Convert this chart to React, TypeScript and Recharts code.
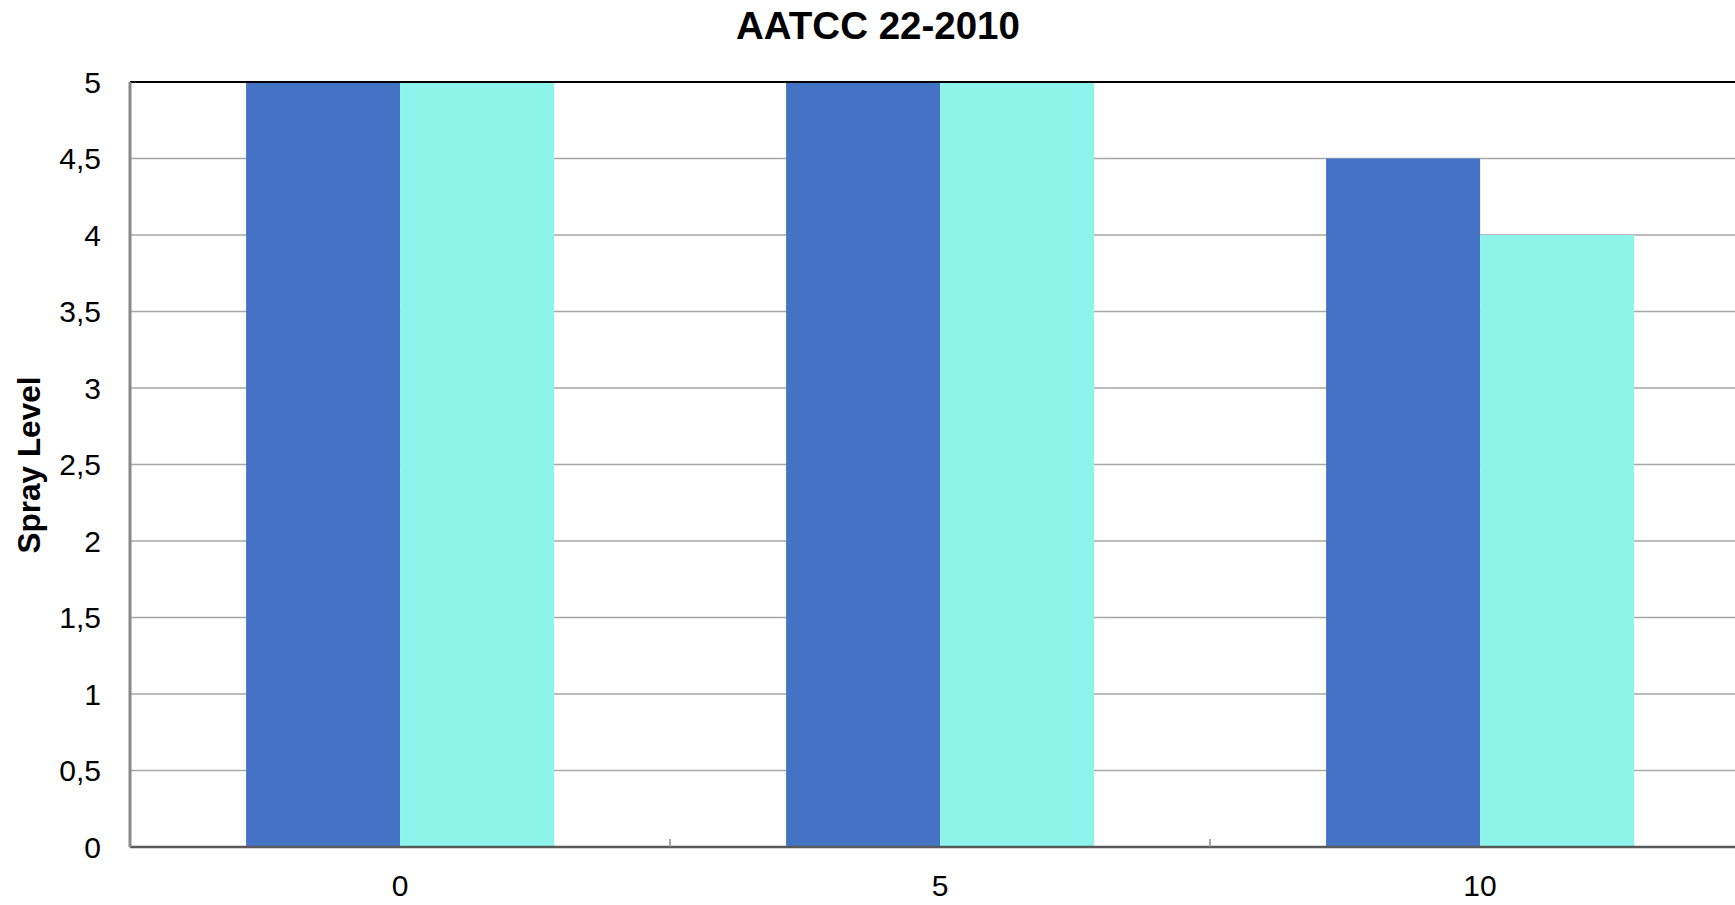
import React from 'react';
import { BarChart, Bar, XAxis, YAxis, CartesianGrid, ReferenceLine } from 'recharts';

// Spray rating (AATCC 22-2010) after 0, 5 and 10 washes
const washCycles = ['0', '5', '10'];
const sampleA = [5, 5, 4.5];
const sampleB = [5, 5, 4];
const yTicks = [0, 0.5, 1, 1.5, 2, 2.5, 3, 3.5, 4, 4.5, 5];

const title = 'AATCC 22-2010';
const yTitle = 'Spray Level';

const data = washCycles.map((c, i) => ({ cycle: c, a: sampleA[i], b: sampleB[i] }));

const FONT = '"Liberation Sans", Arial, sans-serif';

const CHART_W = 1750;
const CHART_H = 905;

// Category label plus a small upward tick at the left edge of each band
const CycleTick = (props: any) => {
  const { x, y, payload } = props;
  const half = payload && typeof payload.offset === 'number' ? payload.offset : 0;
  return (
    <g>
      <line x1={x - half} x2={x - half} y1={y - 8} y2={y} stroke="#8c8c8c" strokeWidth={1.5} />
      <text x={x} y={y + 49} textAnchor="middle" fontFamily={FONT} fontSize={30} fill="#000">
        {payload.value}
      </text>
    </g>
  );
};

export default function App() {
  return (
    <div
      style={{
        position: 'fixed',
        left: 0,
        top: 0,
        width: 1735,
        height: 905,
        overflow: 'hidden',
        background: '#fff',
      }}
    >
      <BarChart
        width={CHART_W}
        height={CHART_H}
        data={data}
        margin={{ top: 82, right: 0, bottom: 0, left: 0 }}
        barCategoryGap="21.5%"
        barGap={0}
      >
        <CartesianGrid vertical={false} stroke="#a6a6a6" strokeWidth={1.5} />
        <XAxis
          dataKey="cycle"
          height={58}
          axisLine={{ stroke: '#595959', strokeWidth: 2.5 }}
          tickLine={false}
          tickSize={0}
          tickMargin={0}
          tick={<CycleTick />}
          interval={0}
        />
        <YAxis
          width={130}
          domain={[0, 5]}
          ticks={yTicks}
          interval={0}
          axisLine={{ stroke: '#888888', strokeWidth: 3 }}
          tickLine={false}
          tickSize={0}
          tickMargin={29}
          tickFormatter={(v: number) => String(v).replace('.', ',')}
          tick={{ fontFamily: FONT, fontSize: 30, fill: '#000' }}
        />
        <ReferenceLine y={5} stroke="#000" strokeWidth={2} />
        <Bar dataKey="a" fill="#4472C4" isAnimationActive={false} />
        <Bar dataKey="b" fill="#8DF4EC" isAnimationActive={false} />
      </BarChart>
      <svg
        width={1735}
        height={905}
        style={{ position: 'absolute', left: 0, top: 0, pointerEvents: 'none' }}
      >
        <text
          x={878}
          y={39}
          textAnchor="middle"
          fontFamily={FONT}
          fontWeight="bold"
          fontSize={38.5}
          fill="#000"
        >
          {title}
        </text>
        <text
          x={40}
          y={465}
          transform="rotate(-90 40 465)"
          textAnchor="middle"
          fontFamily={FONT}
          fontWeight="bold"
          fontSize={31.5}
          fill="#000"
        >
          {yTitle}
        </text>
      </svg>
    </div>
  );
}
